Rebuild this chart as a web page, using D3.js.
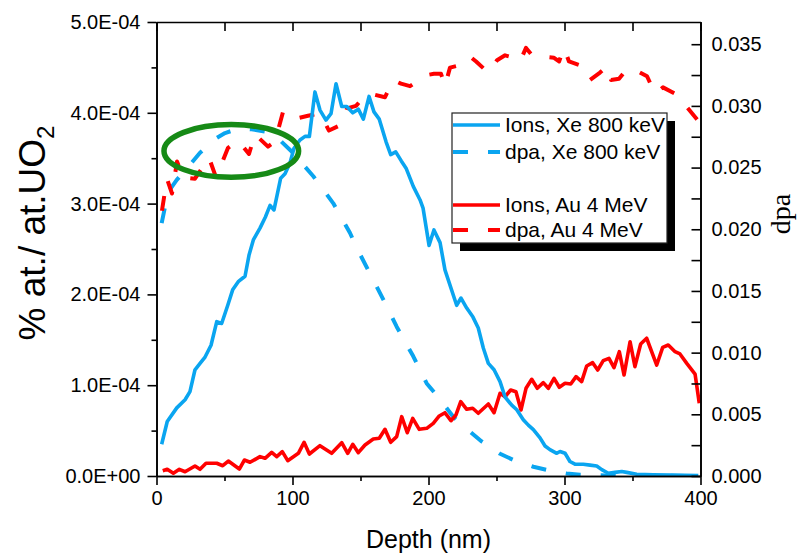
<!DOCTYPE html>
<html>
<head>
<meta charset="utf-8">
<script src="https://cdn.jsdelivr.net/npm/d3@7"></script>
<style>
  body { margin: 0; background: #fff; }
  text { font-family: "Liberation Sans", Arial, sans-serif; fill: #000; }
</style>
</head>
<body>
<svg id="chart" width="799" height="554"></svg>
<script>
// ---- Depth profiles (depth in nm) ----
// Implanted ion concentration, in units of 1E-04 % at./at.UO2 (left axis)
const xeIonDepth = [3.8,7.9,14.9,21,24.6,28.3,32,35.7,40.1,44.3,47.9,52.4,56,60.1,65.1,68,71.2,76.1,80,83.5,86.4,91.3,94.5,98.2,101.1,105.5,109.2,112.4,116.5,120.2,124.6,128.3,132,136.2,139.9,144.3,148.4,152.1,156.3,159.9,163.8,168.8,172.2,175.9,180,183.5,188.8,193.8,196,200.4,204,208.5,212.1,220.7,223.9,228.1,232.7,236.6,240.3,244,248.2,252.6,256.3,261.2,264.9,269.7,273.4,277.1,282,285.7,289.3,294.3,296.7,300.4,304,307.7,313.8,318.8,323.7,327.4,332.2,337.1,342.1,345.7,353.1,365.3,377.6,398.4];
const xeIonConc = [0.35,0.60,0.75,0.84,0.93,1.17,1.24,1.31,1.44,1.70,1.68,1.88,2.05,2.14,2.20,2.43,2.60,2.73,2.85,2.98,2.93,3.28,3.33,3.45,3.61,3.70,3.74,3.74,4.23,4.03,3.92,3.99,4.32,4.07,4.07,4.00,4.04,3.93,4.18,4.01,3.93,3.68,3.54,3.57,3.47,3.39,3.19,3.04,2.95,2.54,2.71,2.57,2.27,1.88,1.96,1.85,1.75,1.63,1.41,1.24,1.17,1.04,0.87,0.78,0.73,0.62,0.56,0.51,0.42,0.33,0.29,0.25,0.27,0.25,0.16,0.13,0.13,0.12,0.11,0.07,0.03,0.04,0.05,0.04,0.02,0.014,0.01,0.006];

const auIonDepth = [4.6,7.9,12.4,16.8,21,28.3,32,36.4,44.3,48.7,52.8,60.9,64.6,68.8,76.1,79.8,84.7,88.4,92.5,96.5,104.3,108.5,112.4,120.2,128.8,136.2,140.6,144.3,148.4,153.3,159.4,163.8,168,172.2,176.6,180.3,184.4,188.4,193.2,198.7,203.5,207.9,212.1,216.5,220.2,223.7,228.1,232.5,236.6,244,248.2,252.6,256.3,260.4,264.3,268,271.7,275.9,280,284.4,288.1,292.3,296.2,300.4,304.6,308.5,312.6,316.3,320.7,324.4,328.5,332.7,336.4,340.3,343.8,348.2,351.8,356,360.4,367.8,372.2,376.3,381.3,384.9,389.9,396,399.1];
const auIonConc = [0.058,0.074,0.030,0.074,0.047,0.110,0.074,0.140,0.140,0.113,0.165,0.077,0.176,0.151,0.213,0.195,0.261,0.213,0.268,0.169,0.250,0.371,0.242,0.334,0.250,0.367,0.250,0.349,0.257,0.341,0.407,0.415,0.514,0.371,0.433,0.653,0.477,0.635,0.514,0.525,0.580,0.661,0.697,0.609,0.672,0.818,0.735,0.746,0.691,0.793,0.697,0.911,0.873,0.947,0.928,0.727,0.966,1.065,0.966,1.028,0.966,1.076,0.977,1.021,1.013,1.094,1.039,1.211,1.248,1.167,1.270,1.296,1.193,1.369,1.112,1.479,1.204,1.454,1.517,1.222,1.417,1.443,1.369,1.344,1.241,1.123,0.801];

// Displacements per atom (right axis)
const xeDpaDepth = [3.8,8.5,14.9,25.9,32,44.3,50.4,61.4,70,81,87.1,99.4,115.3,130,142.3,147.2,157,166.8,176.6,188.8,198.7,204.8,213.4,218.2,230.5,239.1,252.6,262.4,277.1,286.9,301.6,311.4,330,360,400];
const xeDpa = [0.0205,0.0230,0.0240,0.0254,0.0262,0.0274,0.0278,0.0282,0.0281,0.0279,0.0276,0.0263,0.0243,0.0221,0.0197,0.0185,0.0164,0.0143,0.0121,0.0097,0.0075,0.0067,0.0055,0.0048,0.0036,0.0028,0.0018,0.0013,0.00075,0.0005,0.0002,0.0001,0.00005,0.00002,0];

const auDpaDepth = [4,7.7,11.4,15.1,19.5,28.3,38.6,43.8,52.6,59.9,68,72.4,82,87.1,93,99.6,111.4,120.2,126.8,136.4,140.1,146.7,154,160.7,168,173.9,179.8,186.4,198.9,204,209.2,212.1,215.8,223.2,230.5,235,243.8,250.4,256.3,262.9,267.3,271.7,276.8,282.7,292.3,296,299.6,303.3,313.6,318.8,326.1,331.3,334.2,340.1,346,354,360.7,366.5,372.4,382.7,390.1,398.2,399.6];
const auDpa = [0.0215,0.0241,0.0229,0.0255,0.0242,0.0241,0.0258,0.0242,0.0266,0.0272,0.0261,0.0277,0.0267,0.0271,0.0295,0.0289,0.0292,0.0294,0.0280,0.0285,0.0298,0.0300,0.0309,0.0309,0.0307,0.0321,0.0318,0.0316,0.0325,0.0326,0.0326,0.0316,0.0331,0.0333,0.0340,0.0336,0.0327,0.0337,0.0341,0.0339,0.0336,0.0347,0.0340,0.0340,0.0339,0.0336,0.0347,0.0336,0.0332,0.0321,0.0327,0.0332,0.0321,0.0322,0.0330,0.0328,0.0324,0.0310,0.0315,0.0309,0.0299,0.0288,0.0285];

// ---- Axis ticks and labels ----
const depthTicks = [0, 100, 200, 300, 400];
const depthMinorTicks = [50, 150, 250, 350];
const concTicks = [0, 1, 2, 3, 4, 5];
const concTickLabels = ["0.0E+00", "1.0E-04", "2.0E-04", "3.0E-04", "4.0E-04", "5.0E-04"];
const concMinorTicks = [0.5, 1.5, 2.5, 3.5, 4.5];
const dpaTicks = [0, 0.005, 0.010, 0.015, 0.020, 0.025, 0.030, 0.035];
const dpaTickLabels = ["0.000", "0.005", "0.010", "0.015", "0.020", "0.025", "0.030", "0.035"];
const dpaMinorTicks = [0.0025, 0.0075, 0.0125, 0.0175, 0.0225, 0.0275, 0.0325];

const legendLabels = ["Ions, Xe 800 keV", "dpa, Xe 800 keV", "Ions, Au 4 MeV", "dpa, Au 4 MeV"];

// Highlighted region (depth nm, left-axis units)
const highlightCenter = [55, 3.58];
const highlightRadius = [49.5, 0.29];

const xeColor = "#0aa5f0";
const auColor = "#ff0000";
const highlightColor = "#168a16";

// ---- Layout ----
const svg = d3.select("#chart");
const plot = { left: 156.5, right: 700.5, top: 22, bottom: 476 };

const x = d3.scaleLinear().domain([0, 400]).range([plot.left, plot.right]);
const yConc = d3.scaleLinear().domain([0, 5]).range([plot.bottom, plot.top]);
const yDpa = d3.scaleLinear().domain([0, 0.0368]).range([plot.bottom, plot.top]);

svg.append("defs").append("clipPath").attr("id", "plotClip")
  .append("rect")
  .attr("x", plot.left).attr("y", plot.top)
  .attr("width", plot.right - plot.left).attr("height", plot.bottom - plot.top);

const lines = svg.append("g").attr("clip-path", "url(#plotClip)");

function drawSeries(depths, values, yScale, color, dashed) {
  const pts = depths.map((d, i) => [d, values[i]]);
  const gen = d3.line().x(p => x(p[0])).y(p => yScale(p[1]));
  lines.append("path")
    .datum(pts)
    .attr("d", gen)
    .attr("fill", "none")
    .attr("stroke", color)
    .attr("stroke-width", dashed ? 4 : 3.6)
    .attr("stroke-linejoin", "round")
    .attr("stroke-dasharray", dashed ? "15,20" : null);
}

drawSeries(xeDpaDepth, xeDpa, yDpa, xeColor, true);
drawSeries(auDpaDepth, auDpa, yDpa, auColor, true);
drawSeries(auIonDepth, auIonConc, yConc, auColor, false);
drawSeries(xeIonDepth, xeIonConc, yConc, xeColor, false);

// Highlight ellipse
svg.append("ellipse")
  .attr("cx", x(highlightCenter[0]))
  .attr("cy", yConc(highlightCenter[1]))
  .attr("rx", x(highlightRadius[0]) - x(0))
  .attr("ry", yConc(0) - yConc(highlightRadius[1]))
  .attr("fill", "none")
  .attr("stroke", highlightColor)
  .attr("stroke-width", 5.5);

// ---- Axes ----
function styleAxis(g) {
  g.select(".domain").attr("stroke", "#000").attr("stroke-width", 1.6);
  g.selectAll(".tick line").attr("stroke", "#000").attr("stroke-width", 1.6);
  g.selectAll("text").attr("font-size", 20).attr("font-family", "Liberation Sans, Arial, sans-serif");
}

// bottom
svg.append("g").attr("transform", `translate(0,${plot.bottom})`)
  .call(d3.axisBottom(x).tickValues(depthMinorTicks).tickSize(5).tickSizeOuter(0).tickFormat(""))
  .call(styleAxis);
svg.append("g").attr("transform", `translate(0,${plot.bottom})`)
  .call(d3.axisBottom(x).tickValues(depthTicks).tickSize(9).tickSizeOuter(0).tickPadding(6).tickFormat(d3.format("d")))
  .call(styleAxis);

// top (inward ticks, no labels)
svg.append("g").attr("transform", `translate(0,${plot.top})`)
  .call(d3.axisTop(x).tickValues(depthTicks.concat(depthMinorTicks)).tickSizeInner(-9).tickSizeOuter(0).tickFormat(""))
  .call(styleAxis);

// left
svg.append("g").attr("transform", `translate(${plot.left},0)`)
  .call(d3.axisLeft(yConc).tickValues(concMinorTicks).tickSize(5).tickSizeOuter(0).tickFormat(""))
  .call(styleAxis);
svg.append("g").attr("transform", `translate(${plot.left},0)`)
  .call(d3.axisLeft(yConc).tickValues(concTicks).tickSize(9).tickSizeOuter(0).tickPadding(7)
    .tickFormat((d, i) => concTickLabels[i]))
  .call(styleAxis);

// right (inward ticks, outside labels)
svg.append("g").attr("transform", `translate(${plot.right},0)`)
  .call(d3.axisRight(yDpa).tickValues(dpaMinorTicks).tickSizeInner(-9).tickSizeOuter(0).tickFormat(""))
  .call(styleAxis);
svg.append("g").attr("transform", `translate(${plot.right},0)`)
  .call(d3.axisRight(yDpa).tickValues(dpaTicks).tickSizeInner(-9).tickSizeOuter(0).tickPadding(11)
    .tickFormat((d, i) => dpaTickLabels[i]))
  .call(styleAxis);

// ---- Axis titles ----
svg.append("text")
  .attr("x", (plot.left + plot.right) / 2)
  .attr("y", 548)
  .attr("text-anchor", "middle")
  .attr("font-size", 25)
  .text("Depth (nm)");

const leftTitle = svg.append("text")
  .attr("transform", "translate(45,233) rotate(-90)")
  .attr("text-anchor", "middle")
  .attr("font-size", 37);
leftTitle.append("tspan").text("% at./ at.UO");
leftTitle.append("tspan").attr("font-size", 24).attr("dy", 9).text("2");

svg.append("text")
  .attr("transform", "translate(790,214) rotate(-90)")
  .attr("text-anchor", "middle")
  .attr("font-size", 28)
  .style("font-family", "'Liberation Serif', 'Times New Roman', serif")
  .text("dpa");

// ---- Legend ----
const legend = { x: 452, y: 113, w: 215, h: 130, shadow: 8 };
svg.append("rect")
  .attr("x", legend.x + legend.shadow).attr("y", legend.y + legend.shadow)
  .attr("width", legend.w).attr("height", legend.h)
  .attr("fill", "#000");
svg.append("rect")
  .attr("x", legend.x).attr("y", legend.y)
  .attr("width", legend.w).attr("height", legend.h)
  .attr("fill", "#fff").attr("stroke", "#222").attr("stroke-width", 1.2);

const legendRows = [
  { label: legendLabels[0], color: xeColor, dashed: false, y: 125 },
  { label: legendLabels[1], color: xeColor, dashed: true, y: 152 },
  { label: legendLabels[2], color: auColor, dashed: false, y: 205 },
  { label: legendLabels[3], color: auColor, dashed: true, y: 230 }
];
legendRows.forEach(r => {
  svg.append("line")
    .attr("x1", legend.x + 1).attr("x2", legend.x + 48)
    .attr("y1", r.y).attr("y2", r.y)
    .attr("stroke", r.color)
    .attr("stroke-width", r.dashed ? 4 : 3.6)
    .attr("stroke-dasharray", r.dashed ? "15,20" : null);
  svg.append("text")
    .attr("x", legend.x + 53).attr("y", r.y)
    .attr("dy", "0.35em")
    .attr("font-size", 21)
    .text(r.label);
});
</script>
</body>
</html>
